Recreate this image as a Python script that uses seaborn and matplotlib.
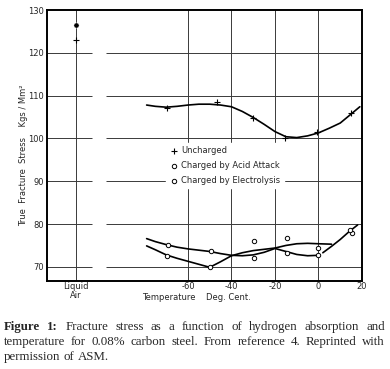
import matplotlib
matplotlib.use("Agg")
import matplotlib.pyplot as plt
import seaborn as sns

# "Liquid Air" sits on its own column left of the temperature scale
liquid_air_t = -111.6

# measured points (temperature in deg C, stress in kgs/mm2)
unch_t = [liquid_air_t, -69.6, -46.8, -30.2, -15.2, -0.8, 14.8]
unch_s = [123.0, 107.1, 108.6, 104.8, 100.0, 101.5, 105.9]
acid_t = [-69.3, -49.4, -29.7, -14.7, 0.0, 15.4]
acid_s = [75.2, 73.7, 72.1, 73.2, 72.7, 77.8]
elec_t = [-69.8, -49.9, -29.6, -14.6, 0.0, 14.3]
elec_s = [72.6, 69.9, 76.1, 76.7, 74.5, 78.6]
dot_t = [liquid_air_t]
dot_s = [126.5]

# hand drawn curves
curve_u_t = [-79, -75, -70, -65, -60, -55, -50, -45, -40, -35, -30, -25, -20,
             -15, -10, -5, 0, 5, 10, 15, 19]
curve_u_s = [107.8, 107.5, 107.3, 107.5, 107.8, 108.0, 108.0, 107.8, 107.4, 106.3,
             104.9, 103.3, 101.6, 100.4, 100.2, 100.6, 101.3, 102.4, 103.6, 105.7, 107.4]
curve_a_t = [-79, -75, -70, -65, -60, -55, -50, -45, -40, -35, -30, -25, -20,
             -15, -10, -5, 0]
curve_a_s = [76.6, 75.9, 75.2, 74.6, 74.2, 73.9, 73.6, 73.1, 72.7, 72.6, 72.8,
             73.4, 74.3, 73.6, 72.9, 72.6, 72.7]
curve_a2_t = [2, 6, 10, 14, 18]
curve_a2_s = [73.3, 74.8, 76.4, 78.2, 79.8]
curve_e_t = [-79, -75, -70, -65, -60, -55, -50, -45, -40, -35, -30, -25, -20,
             -15, -10, -5, 0, 6]
curve_e_s = [74.9, 74.0, 72.8, 72.0, 71.3, 70.6, 69.9, 71.2, 72.6, 73.3, 73.8,
             74.1, 74.4, 75.0, 75.4, 75.5, 75.4, 75.3]

x_ticks = [liquid_air_t, -60, -40, -20, 0, 20]
x_labels = ["Liquid\nAir", "-60", "-40", "-20", "0", "20"]
y_ticks = [70, 80, 90, 100, 110, 120, 130]

sns.set_style("white")
plt.rcParams["font.family"] = ["DejaVu Sans"]

fig = plt.figure(figsize=(3.9, 3.69), dpi=100)
ax = fig.add_axes([47 / 390, 1 - 281 / 369, 315 / 390, 271 / 369])
ax.set_xlim(-124.8, 20)
ax.set_ylim(66.7, 130)

# grid, horizontal lines broken just right of the liquid air column
gc = "#3a3a3a"
for y in y_ticks[:-1]:
    ax.hlines(y, -124.8, -104, color=gc, lw=0.7, zorder=1)
    ax.hlines(y, -97.5, 20, color=gc, lw=0.7, zorder=1)
for x in x_ticks[:-1]:
    ax.axvline(x, color=gc, lw=0.7, zorder=1)

# curves
for ct, cs in [(curve_u_t, curve_u_s), (curve_a_t, curve_a_s),
               (curve_a2_t, curve_a2_s), (curve_e_t, curve_e_s)]:
    sns.lineplot(x=ct, y=cs, sort=False, estimator=None, color="black",
                 lw=1.2, ax=ax, zorder=3)

# points
sns.scatterplot(x=unch_t, y=unch_s, marker="+", s=14, color="black",
                linewidth=0.8, ax=ax, zorder=4, label="Uncharged")
sns.scatterplot(x=acid_t, y=acid_s, marker="o", s=10, facecolor="white",
                edgecolor="black", linewidth=0.7, ax=ax, zorder=4,
                label="Charged by Acid Attack")
sns.scatterplot(x=elec_t, y=elec_s, marker="o", s=10, facecolor="white",
                edgecolor="black", linewidth=0.7, ax=ax, zorder=4,
                label="Charged by Electrolysis")
sns.scatterplot(x=dot_t, y=dot_s, marker="o", s=14, color="black",
                ax=ax, zorder=4)

leg = ax.legend(loc="upper left", bbox_to_anchor=(0.365, 0.525), fontsize=6,
                frameon=True, facecolor="white", edgecolor="white",
                framealpha=1, handletextpad=0.2, labelspacing=0.7,
                borderpad=0.4, handlelength=1.2)
leg.set_zorder(5)

ax.set_xticks(x_ticks)
ax.set_xticklabels(x_labels, fontsize=6, linespacing=0.95)
ax.set_yticks(y_ticks)
ax.set_yticklabels([str(v) for v in y_ticks], fontsize=6)
ax.tick_params(axis="y", length=0, pad=2)
ax.tick_params(axis="x", length=0, pad=0.8)
ax.set_xlabel("")
ax.set_ylabel("")
for sp in ax.spines.values():
    sp.set_color("black")
    sp.set_linewidth(1.4)

fig.text(24 / 390, 1 - 155 / 369, "True  Fracture  Stress    Kgs / Mm²",
         rotation=90, fontsize=6, ha="center", va="center")
fig.text(196 / 390, 1 - 298 / 369, "Temperature    Deg. Cent.",
         fontsize=6, ha="center", va="center")

# caption, justified word by word
cap_lines = [
    [("Figure", True), ("1:", True), ("Fracture", False), ("stress", False),
     ("as", False), ("a", False), ("function", False), ("of", False),
     ("hydrogen", False), ("absorption", False), ("and", False)],
    [(w, False) for w in "temperature for 0.08% carbon steel.  From reference 4.  Reprinted with".split()],
    [(w, False) for w in "permission of ASM.".split()],
]
cap_y = [327, 342, 357]
x0, x1 = 4, 385
renderer = fig.canvas.get_renderer()
for li, (words, yy) in enumerate(zip(cap_lines, cap_y)):
    texts = []
    for w, b in words:
        t = fig.text(0, 1 - yy / 369, w, fontsize=9.3, family="Liberation Serif",
                     fontweight="bold" if b else "normal", va="center", ha="left")
        texts.append(t)
    widths = [t.get_window_extent(renderer).width for t in texts]
    if li < 2:
        gap = (x1 - x0 - sum(widths)) / (len(words) - 1)
    else:
        gap = 3.3
    x = x0
    for t, wdt in zip(texts, widths):
        t.set_x(x / 390)
        x += wdt + gap

fig.savefig("out.png", dpi=100)
